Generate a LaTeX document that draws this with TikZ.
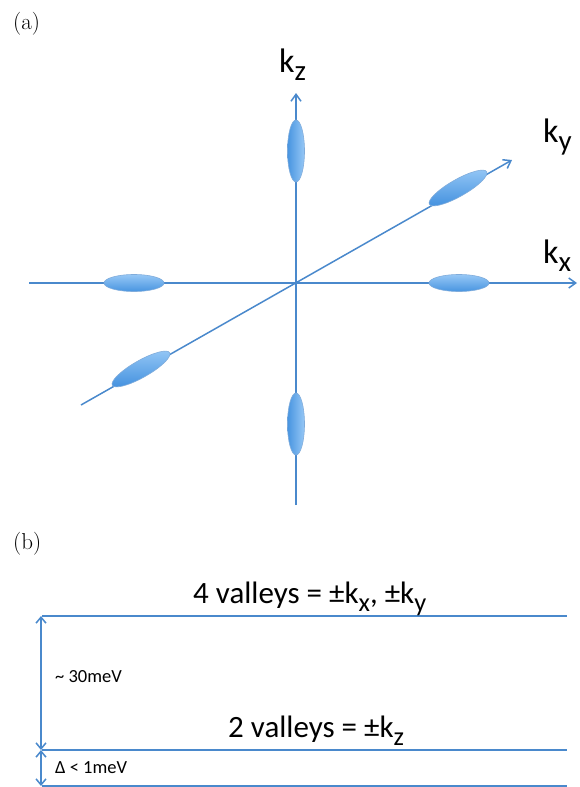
\documentclass[tikz,border=0pt]{standalone}
\usepackage{fontspec}
\setmainfont{Carlito}
\newfontfamily\lmfont{Latin Modern Roman}
\usepackage{graphicx}
\usetikzlibrary{arrows.meta, shapes.geometric, positioning}

\definecolor{axisblue}{RGB}{74,137,204}
\definecolor{valleydark}{RGB}{72,148,224}
\definecolor{valleylight}{RGB}{150,200,246}

% subscript as drawn in the slide
\newcommand{\ksub}[1]{k\raisebox{-0.26em}{\scalebox{0.85}{#1}}}

\tikzset{
  axis/.style={axisblue, line width=1.5pt, -{Straight Barb[length=7pt,width=10pt]}},
  valley/.style={ellipse, draw=axisblue!70, line width=0.6pt, inner sep=0pt,
    minimum width=60pt, minimum height=17pt, top color=valleylight, bottom color=valleydark},
  valley vert/.style={ellipse, draw=axisblue!70, line width=0.6pt, inner sep=0pt,
    minimum width=17pt, minimum height=62pt, left color=valleydark, right color=valleylight},
  klabel/.style={font=\fontsize{34}{40}\selectfont, inner sep=0pt, anchor=base west},
  panel/.style={font=\lmfont\fontsize{23}{27}\selectfont, inner sep=0pt, anchor=base west},
  level/.style={axisblue, line width=1.8pt},
  gap/.style={axisblue, line width=1.5pt, {Straight Barb[length=6pt,width=10pt]}-{Straight Barb[length=6pt,width=10pt]}},
  valleytext/.style={font=\fontsize{31}{37}\selectfont, inner sep=0pt, anchor=base west},
  gaptext/.style={font=\fontsize{18.5}{22}\selectfont, inner sep=0pt, anchor=base west}
}

\begin{document}
\begin{tikzpicture}[x=1pt, y=-1pt]
  \useasboundingbox (0,0) rectangle (579,787);

  % (a) valleys in k-space
  \node[panel] (pa) at (13,29) {(a)};

  \coordinate (O) at (296,283);
  \coordinate (kx-) at (29,283);
  \coordinate (kx+) at (577,283);
  \coordinate (kz-) at (296,505);
  \coordinate (kz+) at (296,93);
  \coordinate (ky-) at (81,405);
  \coordinate (ky+) at (512,160);

  \draw[axis] (kx-) -- (kx+);
  \draw[axis] (kz-) -- (kz+);
  \draw[axis] (ky-) -- (ky+);

  \node[valley] (vx1) at (134,283) {};
  \node[valley] (vx2) at (459,283) {};
  \node[valley vert] (vz1) at (296,151) {};
  \node[valley vert] (vz2) at (296,424) {};
  \node[valley, minimum width=66pt, rotate=29.6] (vy1) at (458,188) {};
  \node[valley, minimum width=66pt, rotate=29.6] (vy2) at (141,369) {};

  \node[klabel] (lkz) at (279,72) {\ksub{z}};
  \node[klabel] (lky) at (543,142) {\ksub{y}};
  \node[klabel] (lkx) at (543,263) {\ksub{x}};

  % (b) valley splitting
  \node[panel] (pb) at (13,549) {(b)};

  \coordinate (top-l) at (42,616);
  \coordinate (top-r) at (567,616);
  \coordinate (mid-l) at (42,750);
  \coordinate (mid-r) at (567,750);
  \coordinate (bot-l) at (42,786);
  \coordinate (bot-r) at (567,786);

  \draw[level] (top-l) -- (top-r);
  \draw[level] (mid-l) -- (mid-r);
  \draw[level] (bot-l) -- (bot-r);

  \draw[gap] ([xshift=-1pt]top-l) -- ([xshift=-1pt]mid-l);
  \draw[gap] ([xshift=-1pt]mid-l) -- ([xshift=-1pt]bot-l);

  \node[valleytext] (four) at (193,603) {4 valleys = ±\ksub{x}, ±\ksub{y}};
  \node[valleytext] (two) at (228,737) {2 valleys = ±\ksub{z}};
  \node[gaptext] (big) at (55,682) {\textasciitilde{} 30meV};
  \node[gaptext] (small) at (55,773) {Δ < 1meV};
\end{tikzpicture}
\end{document}
